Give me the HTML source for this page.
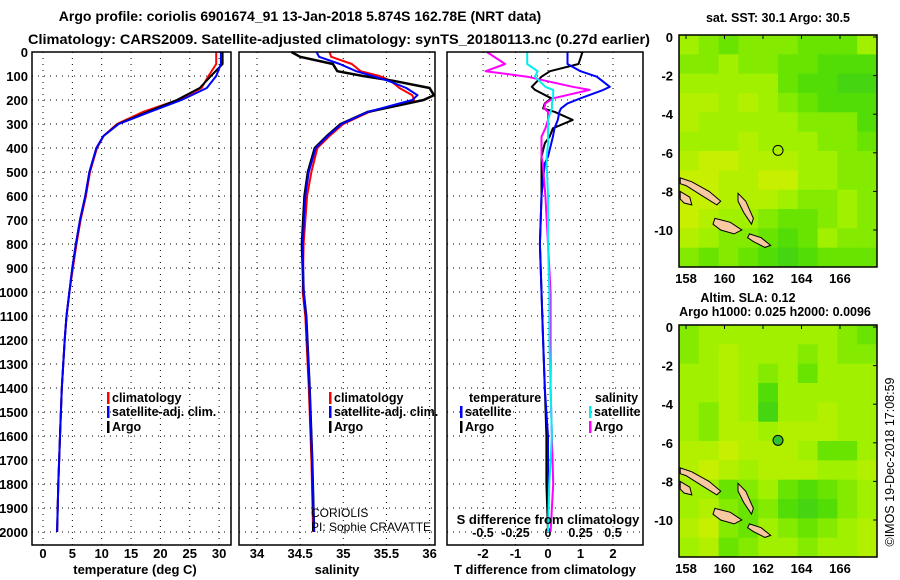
<!DOCTYPE html>
<html><head><meta charset="utf-8"><style>
body{margin:0;background:#fff}
svg{display:block;font-family:"Liberation Sans",sans-serif;font-weight:bold}
</style></head><body>
<svg id="c" width="900" height="580" viewBox="0 0 900 580">
<rect width="900" height="580" fill="#fff"/>
<text x="300" y="21" font-size="14" text-anchor="middle">Argo profile: coriolis 6901674_91 13-Jan-2018 5.874S 162.78E (NRT data)</text>
<text x="28" y="44" font-size="14" textLength="622" lengthAdjust="spacingAndGlyphs">Climatology: CARS2009. Satellite-adjusted climatology: synTS_20180113.nc (0.27d earlier)</text>
<g id="g"></g>
</svg>
<script>
// ---- data ----
const tDepth = [0,50,100,150,200,250,300,350,400,500,600,700,800,900,1000,1100,1200,1400,1600,1800,2000];
const tArgo  = [30.6,30.6,28.6,26.7,22.8,17.7,12.8,10.3,9.1,7.9,7.2,6.3,5.6,5.0,4.5,4.0,3.7,3.2,2.9,2.6,2.4];
const tClim  = [29.5,29.5,28.2,27.0,23.0,17.0,12.6,10.3,9.2,8.0,7.3,6.4,5.7,5.1,4.5,4.0,3.7,3.2,2.9,2.6,2.4];
const tSat   = [30.3,30.3,29.5,27.9,23.6,18.2,12.9,10.3,9.1,7.9,7.2,6.3,5.6,5.0,4.5,4.0,3.7,3.2,2.9,2.6,2.4];
const sDepth = [0,20,50,80,100,120,150,180,200,250,300,350,400,500,600,800,1000,1100,1400,1700,2000];
const sArgo  = [34.40,34.50,34.88,34.93,35.23,35.58,36.00,36.05,35.93,35.28,34.97,34.81,34.67,34.59,34.55,34.52,34.54,34.57,34.61,34.64,34.66];
const sClim  = [34.84,34.86,35.10,35.20,35.42,35.55,35.65,35.80,35.82,35.30,35.00,34.84,34.70,34.63,34.58,34.54,34.53,34.56,34.60,34.63,34.65];
const sSat   = [34.69,34.72,34.96,35.15,35.34,35.52,35.73,35.86,35.80,35.28,34.98,34.82,34.68,34.60,34.56,34.53,34.54,34.57,34.61,34.64,34.66];
const dDepth = [0,50,80,103,145,158,193,214,235,249,283,318,353,380,436,464,600,800,1000,1200,1400,1600,1800,2000];
const dTArgo = [1.06,0.94,0.06,-0.2,-0.5,-0.4,0.1,-0.1,-0.15,0.2,0.76,0.15,0.05,-0.1,-0.2,-0.2,-0.2,-0.25,-0.2,-0.15,-0.1,-0.05,-0.05,0.0];
const dTSat  = [0.6,0.6,1.0,1.5,1.9,1.7,1.0,0.6,0.4,0.35,0.3,0.2,0.15,0.1,0.0,-0.1,-0.2,-0.25,-0.2,-0.15,-0.1,0.0,0.0,0.0];
const dSArgo = [-0.47,-0.33,-0.48,-0.16,0.19,0.32,0.04,-0.02,-0.03,0.0,0.0,-0.02,-0.05,-0.05,-0.05,-0.04,-0.02,0.0,0.02,0.02,0.02,0.03,0.04,0.02];
const dSSat  = [-0.16,-0.16,-0.08,-0.1,-0.02,0.04,0.04,0.03,0.03,0.02,0.0,0.0,0.0,0.0,-0.01,-0.01,0.0,0.0,0.01,0.01,0.02,0.03,0.01,0.0];
const depthTicks = [0,100,200,300,400,500,600,700,800,900,1000,1100,1200,1300,1400,1500,1600,1700,1800,1900,2000];
const tTicks = [0,5,10,15,20,25,30];
const sTicks = [34,34.5,35,35.5,36];
const dTTicks = [-2,-1,0,1,2];
const dSTicks = [-0.5,-0.25,0,0.25,0.5];
const lonTicks = [158,160,162,164,166];
const latTicks = [0,-2,-4,-6,-8,-10];
const sstField = [
[0.6,0.5,0.4,0.5,0.5,0.5,0.4,0.4,0.4,0.6],
[0.5,0.5,0.6,0.5,0.5,0.4,0.4,0.3,0.3,0.3],
[0.6,0.6,0.6,0.6,0.6,0.4,0.3,0.3,0.2,0.2],
[0.7,0.7,0.6,0.7,0.6,0.5,0.4,0.3,0.3,0.3],
[0.7,0.6,0.6,0.6,0.6,0.6,0.5,0.5,0.5,0.3],
[0.6,0.6,0.6,0.7,0.6,0.6,0.6,0.5,0.5,0.4],
[0.7,0.8,0.8,0.7,0.7,0.7,0.6,0.6,0.5,0.5],
[0.8,0.8,0.7,0.7,0.8,0.8,0.6,0.6,0.5,0.5],
[0.8,0.8,0.7,0.7,0.7,0.6,0.5,0.5,0.6,0.5],
[0.8,0.7,0.6,0.6,0.5,0.4,0.4,0.5,0.6,0.5],
[0.7,0.6,0.5,0.5,0.4,0.3,0.4,0.6,0.5,0.5],
[0.5,0.4,0.5,0.4,0.3,0.2,0.3,0.4,0.4,0.4]];
const slaField = [
[0.5,0.6,0.6,0.6,0.6,0.6,0.6,0.6,0.5,0.4],
[0.5,0.6,0.7,0.6,0.6,0.6,0.5,0.6,0.5,0.5],
[0.6,0.6,0.7,0.6,0.5,0.6,0.4,0.6,0.6,0.6],
[0.6,0.6,0.7,0.6,0.3,0.6,0.6,0.6,0.6,0.6],
[0.6,0.5,0.7,0.6,0.2,0.6,0.6,0.7,0.6,0.6],
[0.6,0.5,0.7,0.7,0.6,0.7,0.7,0.7,0.6,0.6],
[0.7,0.7,0.8,0.7,0.7,0.7,0.6,0.4,0.4,0.6],
[0.7,0.8,0.7,0.6,0.7,0.7,0.7,0.6,0.6,0.7],
[0.6,0.6,0.4,0.5,0.6,0.4,0.3,0.4,0.5,0.6],
[0.6,0.7,0.5,0.4,0.5,0.3,0.2,0.3,0.5,0.6],
[0.7,0.8,0.5,0.4,0.6,0.5,0.4,0.5,0.6,0.7],
[0.6,0.7,0.4,0.5,0.6,0.6,0.5,0.6,0.6,0.7]];
const islands = [
 [[157.7,-7.3],[158.3,-7.5],[159.2,-8.0],[159.8,-8.5],[159.6,-8.7],[158.8,-8.2],[158.0,-7.7],[157.7,-7.6]],
 [[157.7,-8.0],[158.2,-8.3],[158.3,-8.7],[157.9,-8.6],[157.7,-8.4]],
 [[160.7,-8.1],[161.1,-8.5],[161.5,-9.4],[161.4,-9.7],[161.0,-9.1],[160.7,-8.5]],
 [[159.5,-9.4],[160.3,-9.6],[160.9,-10.0],[160.5,-10.2],[159.8,-10.0],[159.4,-9.7]],
 [[161.3,-10.2],[161.9,-10.4],[162.4,-10.8],[162.1,-10.9],[161.5,-10.6],[161.2,-10.4]]];
const argoLon = 162.78, argoLat = -5.874;

// ---- helpers ----
const NS='http://www.w3.org/2000/svg';
const G=document.getElementById('g');
function mk(tag,attrs,parent){const e=document.createElementNS(NS,tag);for(const k in attrs)e.setAttribute(k,attrs[k]);(parent||G).appendChild(e);return e;}
function txt(x,y,s,size,anchor,parent){const e=mk('text',{x:x,y:y,'font-size':size,'text-anchor':anchor||'middle'},parent);e.textContent=s;return e;}
const Y0=52, PY=0.24;
const yD=d=>Y0+d*PY;
const panels=[
 {x0:32,x1:231,name:'temperature-panel',sx:v=>43+v*5.87},
 {x0:239,x1:435,name:'salinity-panel',sx:v=>257+(v-34)*86.3},
 {x0:447,x1:643,name:'difference-panel',sx:v=>548+v*32.5}];
const sxS=v=>548+v*130;

panels.forEach((p,i)=>{
  const g=mk('g',{});
  
  
  depthTicks.forEach(d=>{
    const l=mk('line',{x1:p.x0,x2:p.x1,y1:yD(d),y2:yD(d),stroke:'#000','stroke-width':1,'stroke-dasharray':'1,5'},g);
    
    
  });
});
depthTicks.forEach(d=>{
  const t=txt(28,yD(d)+5,String(d),13,'end');
  
  
});
function vgrid(p,ticks,fx,labels,ly){
  ticks.forEach(v=>{
    const l=mk('line',{x1:fx(v),x2:fx(v),y1:Y0,y2:545,stroke:'#000','stroke-width':1,'stroke-dasharray':'1,5'});
    
    
    if(labels){const t=txt(fx(v),ly,String(v),13,'middle');
      
      }
  });
}
vgrid(panels[0],tTicks,panels[0].sx,true,558);
vgrid(panels[1],sTicks,panels[1].sx,true,558);
vgrid(panels[2],dTTicks,panels[2].sx,true,558);
dSTicks.forEach(v=>{
  const t=txt(sxS(v),537,String(v),12.5,'middle');
  
  
});
function line(depths,vals,fx,color,name,w){
  const pts=depths.map((d,i)=>fx(vals[i]).toFixed(1)+','+yD(d).toFixed(1)).join(' ');
  const e=mk('polyline',{points:pts,fill:'none',stroke:color,'stroke-width':w||2,'stroke-linejoin':'round'});
  
  
}
line(tDepth,tClim,panels[0].sx,'#f00','temp-climatology-line');
line(tDepth,tArgo,panels[0].sx,'#000','temp-argo-line');
line(tDepth,tSat,panels[0].sx,'#00f','temp-satellite-line');
line(sDepth,sClim,panels[1].sx,'#f00','salinity-climatology-line');
line(sDepth,sArgo,panels[1].sx,'#000','salinity-argo-line',2.5);
line(sDepth,sSat,panels[1].sx,'#00f','salinity-satellite-line');
line(dDepth,dTArgo,panels[2].sx,'#000','tdiff-argo-line');
line(dDepth,dTSat,panels[2].sx,'#00f','tdiff-satellite-line');
line(dDepth,dSArgo,sxS,'#f0f','sdiff-argo-line');
line(dDepth,dSSat,sxS,'#0ee','sdiff-satellite-line');
panels.forEach(p=>{
  const r=mk('rect',{x:p.x0,y:Y0,width:p.x1-p.x0,height:545-Y0,fill:'none',stroke:'#000','stroke-width':1.5});
  
  
});
[[135,'temperature (deg C)'],[337,'salinity'],[545,'T difference from climatology']].forEach(a=>{
  const t=txt(a[0],574,a[1],13,'middle');
  
  
});
{const t=txt(548,524,'S difference from climatology',13,'middle');
 
 }
function leg(x,y,color,label){
  const r=mk('rect',{x:x,y:y-10,width:2.5,height:12,fill:color});
  
  
  const t=txt(x+5,y,label,12.5,'start');
  
  
}
leg(107,402,'#f00','climatology');leg(107,416,'#00f','satellite-adj. clim.');leg(107,431,'#000','Argo');
leg(329,402,'#f00','climatology');leg(329,416,'#00f','satellite-adj. clim.');leg(329,431,'#000','Argo');
{const t=txt(469,402,'temperature',12.5,'start');
 const t2=txt(595,402,'salinity',12.5,'start');}
leg(460,416,'#00f','satellite');leg(460,431,'#000','Argo');
leg(589,416,'#0ee','satellite');leg(589,431,'#f0f','Argo');
{const t=mk('text',{x:311,y:517,'font-size':12,'font-weight':'normal'});t.textContent='CORIOLIS';
 
 const t2=mk('text',{x:311,y:531,'font-size':12,'font-weight':'normal'});t2.textContent='PI: Sophie CRAVATTE';
 }

function col(v){
  const stops=[[0,[40,200,40]],[0.35,[90,225,0]],[0.6,[160,240,0]],[1,[235,240,0]]];
  for(let i=1;i<stops.length;i++){if(v<=stops[i][0]){const a=stops[i-1],b=stops[i],f=(v-a[0])/(b[0]-a[0]);
    return 'rgb('+a[1].map((c,k)=>Math.round(c+(b[1][k]-c)*f)).join(',')+')';}}
  return 'rgb(235,240,0)';
}
function drawMap(top,field,name,titles,dotFill){
  const g=mk('g',{});
  
  
  const X=lon=>686+(lon-158)*19.25, Y=lat=>top+2+(-lat)*19.3;
  const x0=679,x1=877,y0=top,y1=top+232;
  const rows=field.length, cols=field[0].length;
  const cw=(x1-x0)/cols, ch=(y1-y0)/rows;
  field.forEach((row,r)=>row.forEach((v,c)=>{
    const e=mk('rect',{x:x0+c*cw,y:y0+r*ch,width:cw+0.5,height:ch+0.5,fill:col(v)},g);
    
    
  }));
  islands.forEach(is=>{
    const e=mk('polygon',{points:is.map(p=>X(p[0]).toFixed(1)+','+Y(p[1]).toFixed(1)).join(' '),fill:'#f8c8a0',stroke:'#000','stroke-width':1},g);
    
    
  });
  const c=mk('circle',{cx:X(argoLon),cy:Y(argoLat),r:5,fill:dotFill,stroke:'#000','stroke-width':1},g);
  
  
  const fr=mk('rect',{x:x0,y:y0,width:x1-x0,height:y1-y0,fill:'none',stroke:'#000','stroke-width':1.5},g);
  
  
  lonTicks.forEach(l=>{
    const t=txt(X(l),y1+16,String(l),13,'middle',g);
    
    
    mk('line',{x1:X(l),x2:X(l),y1:y0,y2:y0+4,stroke:'#000'},g);
  });
  latTicks.forEach(l=>{
    const t=txt(673,Y(l)+5,String(l),13,'end',g);
    
    
    mk('line',{x1:x1-4,x2:x1,y1:Y(l),y2:Y(l),stroke:'#000'},g);
  });
  titles.forEach(tt=>{
    const t=txt(tt[0],tt[1],tt[2],12.5,'middle',g);
    
    
  });
}
drawMap(35,sstField,'sst-map',[[778,22,'sat. SST: 30.1 Argo: 30.5']],'none');
drawMap(325,slaField,'sla-map',[[748,302,'Altim. SLA: 0.12'],[775,316,'Argo h1000: 0.025 h2000: 0.0096']],'#30c030');
{const t=mk('text',{x:0,y:0,'font-size':12.5,'font-weight':'normal','text-anchor':'middle',transform:'translate(894,462) rotate(-90)'});
 t.textContent='\u00A9IMOS 19-Dec-2018 17:08:59';
 
 }
</script>
</body></html>
